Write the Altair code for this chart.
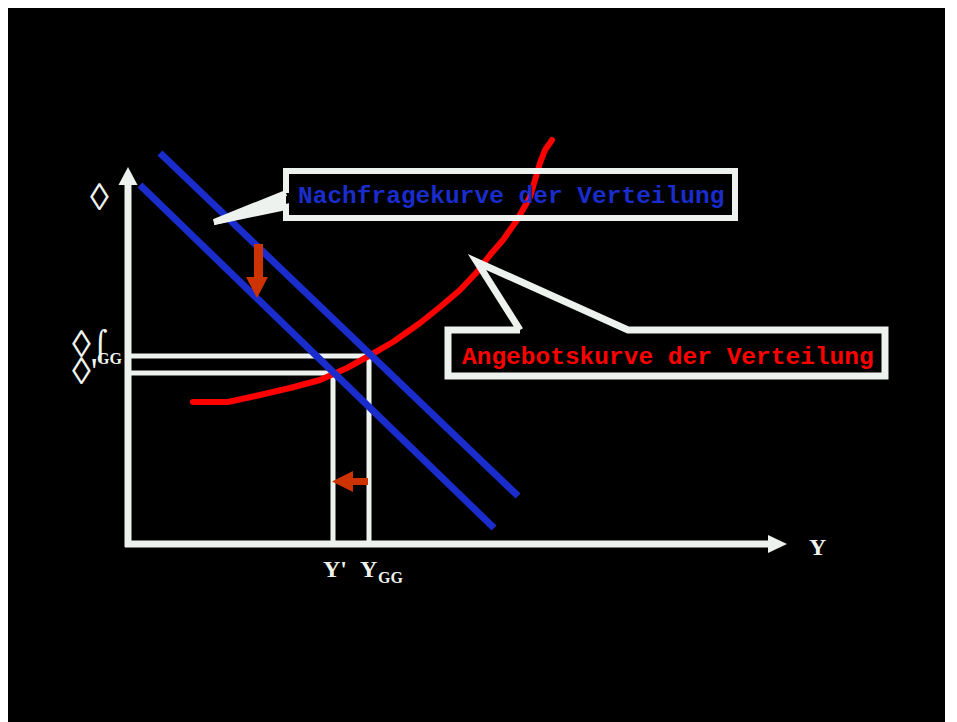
import altair as alt
import pandas as pd

# Diagram units: 1 unit = 1 px, origin at the corner of the axes, y upward
X_DOMAIN = [-120, 817]
Y_DOMAIN = [-178, 536]

WHITE = "#eef2ee"
BLUE = "#1a2dcc"
RED = "#ff0000"
BROWN = "#cc3300"

# axes
yaxis_x = [0, 0]
yaxis_y = [-3, 360]
xaxis_x = [-3, 641]
xaxis_y = [0, 0]
yhead_y = [359, 377]
yhead_x = [-9.5, 0]
yhead_x2 = [9.5, 0]
xhead_x = [640, 659]
xhead_y = [9, 0]
xhead_y2 = [-9, 0]

# demand curves (before / after the shift)
d0_x = [32, 390]
d0_y = [391, 48]
d1_x = [12, 366]
d1_y = [359, 16]

# supply curve
s_x = [65, 100, 132, 162, 192, 219, 239, 265, 292, 312, 332, 349, 362, 375, 389, 402, 412, 417, 424]
s_y = [142, 142, 149, 156, 164, 176, 187, 202, 221, 237, 254, 272, 289, 304, 324, 347, 381, 394, 404]

# guide lines to the equilibria
g0_x = [0, 241, 241]
g0_y = [188, 188, 0]
g1_x = [0, 205, 205]
g1_y = [171, 171, 0]

# shift arrows
down_shaft = dict(x=[126], x2=[135], y=[267], y2=[300])
down_head_y = [246, 267]
down_head_x = [129, 118]
down_head_x2 = [129, 140]
left_shaft = dict(x=[225], x2=[240], y=[59], y2=[66])
left_head_x = [204, 225]
left_head_y = [62.5, 73]
left_head_y2 = [62.5, 52]

# callout boxes
nf_x = [158, 158, 607, 607, 158, 158, 86, 158]
nf_y = [351, 373, 373, 326, 326, 337, 322, 351]
nf_wedge_x = [86, 158]
nf_wedge_y = [324, 353]
nf_wedge_y2 = [319, 336]
an_x = [392, 320, 320, 757, 757, 500, 349, 392]
an_y = [214, 214, 168, 168, 214, 214, 282, 214]

# texts
nf_label = ["Nachfragekurve der Verteilung"]
nf_pos = ([170], [341])
an_label = ["Angebotskurve der Verteilung"]
an_pos = ([334], [180])
top_sym = ["◊"]
top_sym_pos = ([-38], [345])
pair_sym = [["◊", "◊'"]]
pair_sym_pos = ([-56], [198])
bracket_label = ["⌠"]
bracket_pos = ([-35], [189])
big_labels = ["Y'", "Y", "Y"]
big_x = [195, 232, 681]
big_y = [-33, -33, -11]
small_labels = ["GG", "GG"]
small_x = [-31, 250]
small_y = [180, -39]

XS = alt.Scale(domain=X_DOMAIN, nice=False, zero=False)
YS = alt.Scale(domain=Y_DOMAIN, nice=False, zero=False)


def X(f="x"):
    return alt.X(f"{f}:Q", scale=XS, axis=None)


def Y(f="y"):
    return alt.Y(f"{f}:Q", scale=YS, axis=None)


def line(xv, yv, color, width, join="miter", cap="butt"):
    df = pd.DataFrame({"x": xv, "y": yv, "i": list(range(len(xv)))})
    return alt.Chart(df).mark_line(
        color=color, strokeWidth=width, strokeJoin=join, strokeCap=cap
    ).encode(x=X(), y=Y(), order="i:Q")


def vtri(xv, yv, y2v, color):
    df = pd.DataFrame({"x": xv, "y": yv, "y2": y2v})
    return alt.Chart(df).mark_area(color=color, orient="vertical").encode(
        x=X(), y=Y(), y2=alt.Y2("y2:Q")
    )


def htri(yv, xv, x2v, color):
    df = pd.DataFrame({"y": yv, "x": xv, "x2": x2v})
    return alt.Chart(df).mark_area(color=color, orient="horizontal").encode(
        y=Y(), x=X(), x2=alt.X2("x2:Q")
    )


def rect(d, color):
    df = pd.DataFrame(d)
    return alt.Chart(df).mark_rect(color=color).encode(
        x=X(), x2=alt.X2("x2:Q"), y=Y(), y2=alt.Y2("y2:Q")
    )


def text(labels, xv, yv, **kw):
    df = pd.DataFrame({"x": xv, "y": yv, "t": labels})
    return alt.Chart(df).mark_text(**kw).encode(x=X(), y=Y(), text="t")


layers = [
    line(g0_x, g0_y, WHITE, 5),
    line(g1_x, g1_y, WHITE, 5),
    line(s_x, s_y, RED, 6, join="round", cap="round"),
    line(d0_x, d0_y, BLUE, 7),
    line(d1_x, d1_y, BLUE, 7),
    line(yaxis_x, yaxis_y, WHITE, 7),
    line(xaxis_x, xaxis_y, WHITE, 7),
    htri(yhead_y, yhead_x, yhead_x2, WHITE),
    vtri(xhead_x, xhead_y, xhead_y2, WHITE),
    rect(down_shaft, BROWN),
    htri(down_head_y, down_head_x, down_head_x2, BROWN),
    rect(left_shaft, BROWN),
    vtri(left_head_x, left_head_y, left_head_y2, BROWN),
    line(nf_x, nf_y, WHITE, 6),
    vtri(nf_wedge_x, nf_wedge_y, nf_wedge_y2, WHITE),
    line(an_x, an_y, WHITE, 7),
    text(nf_label, *nf_pos, align="left", baseline="alphabetic", font="Liberation Mono",
         fontWeight="bold", fontSize=24.5, color=BLUE),
    text(an_label, *an_pos, align="left", baseline="alphabetic", font="Liberation Mono",
         fontWeight="bold", fontSize=24.5, color=RED),
    text(top_sym, *top_sym_pos, align="left", baseline="middle", font="Liberation Serif",
         fontSize=38, color=WHITE),
    text(pair_sym, *pair_sym_pos, align="left", baseline="middle", font="Liberation Serif",
         fontSize=38, lineHeight=27, color=WHITE),
    text(bracket_label, *bracket_pos, align="left", baseline="alphabetic", font="DejaVu Sans",
         fontSize=28, color=WHITE),
    text(big_labels, big_x, big_y, align="left", baseline="alphabetic", font="Liberation Serif",
         fontWeight="bold", fontSize=24, color=WHITE),
    text(small_labels, small_x, small_y, align="left", baseline="alphabetic", font="Liberation Serif",
         fontWeight="bold", fontSize=16, color=WHITE),
]

chart = alt.layer(*layers).properties(
    width=937, height=714, background="black", padding=0, autosize="none"
).configure_view(strokeWidth=0)

chart.save("out.html", embed_options={"renderer": "svg", "actions": False})
